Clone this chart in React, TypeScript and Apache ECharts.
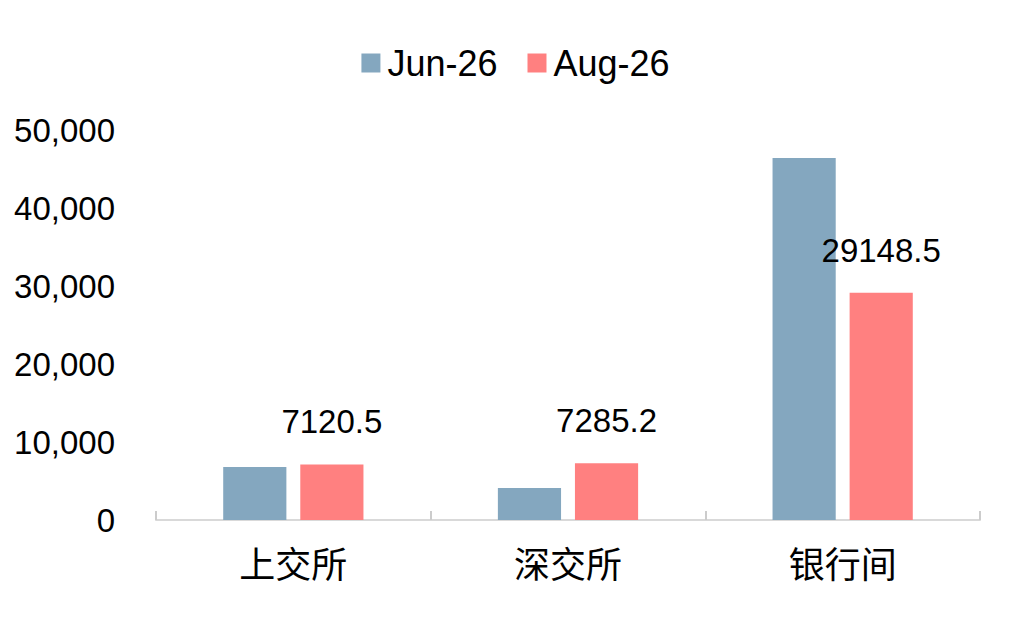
import React, { useEffect, useRef } from "react";
import * as echarts from "echarts";

const categories = ["上交所", "深交所", "银行间"];
const jun26 = [6800, 4100, 46400];
const aug26 = [7120.5, 7285.2, 29148.5];
const seriesNames = ["Jun-26", "Aug-26"];

const NUM_FONT = "'Liberation Sans', Arial, sans-serif";
const CJK_FONT = "'Noto Sans CJK SC', sans-serif";

export default function App() {
  const ref = useRef<HTMLDivElement>(null);
  useEffect(() => {
    document.body.style.margin = "0";
    const chart = echarts.init(ref.current!, null, { renderer: "svg" });
    chart.setOption({
      animation: false,
      textStyle: { fontFamily: NUM_FONT },
      legend: {
        top: 40,
        left: "center",
        itemWidth: 19,
        itemHeight: 19,
        itemGap: 30,
        icon: "rect",
        textStyle: { fontSize: 36, color: "#000", fontFamily: NUM_FONT, padding: [0, 0, 0, 2] },
        data: seriesNames,
      },
      grid: { left: 156, right: 51, top: 130, bottom: 102 },
      xAxis: {
        type: "category",
        data: categories,
        axisLine: { lineStyle: { color: "#d9d9d9", width: 2 } },
        axisTick: {
          show: true,
          interval: 0,
          inside: true,
          length: 9,
          lineStyle: { color: "#cccccc", width: 2 },
        },
        axisLabel: { fontSize: 36, color: "#000", margin: 24, fontFamily: CJK_FONT },
      },
      yAxis: {
        type: "value",
        min: 0,
        max: 50000,
        interval: 10000,
        splitLine: { show: false },
        axisLine: { show: false },
        axisTick: { show: false },
        axisLabel: {
          fontSize: 33,
          color: "#000",
          margin: 41,
          fontFamily: NUM_FONT,
          formatter: (v: number) => v.toLocaleString("en-US"),
        },
      },
      series: [
        {
          name: seriesNames[0],
          type: "bar",
          data: jun26,
          barWidth: "23%",
          barGap: "22%",
          itemStyle: { color: "#84A7BF" },
        },
        {
          name: seriesNames[1],
          type: "bar",
          data: aug26,
          barWidth: "23%",
          itemStyle: { color: "#FF8080" },
          label: {
            show: true,
            position: "top",
            distance: 26,
            fontSize: 33,
            color: "#000",
            fontFamily: NUM_FONT,
          },
        },
      ],
    });
    return () => chart.dispose();
  }, []);
  return <div ref={ref} style={{ width: 1031, height: 622 }} />;
}
